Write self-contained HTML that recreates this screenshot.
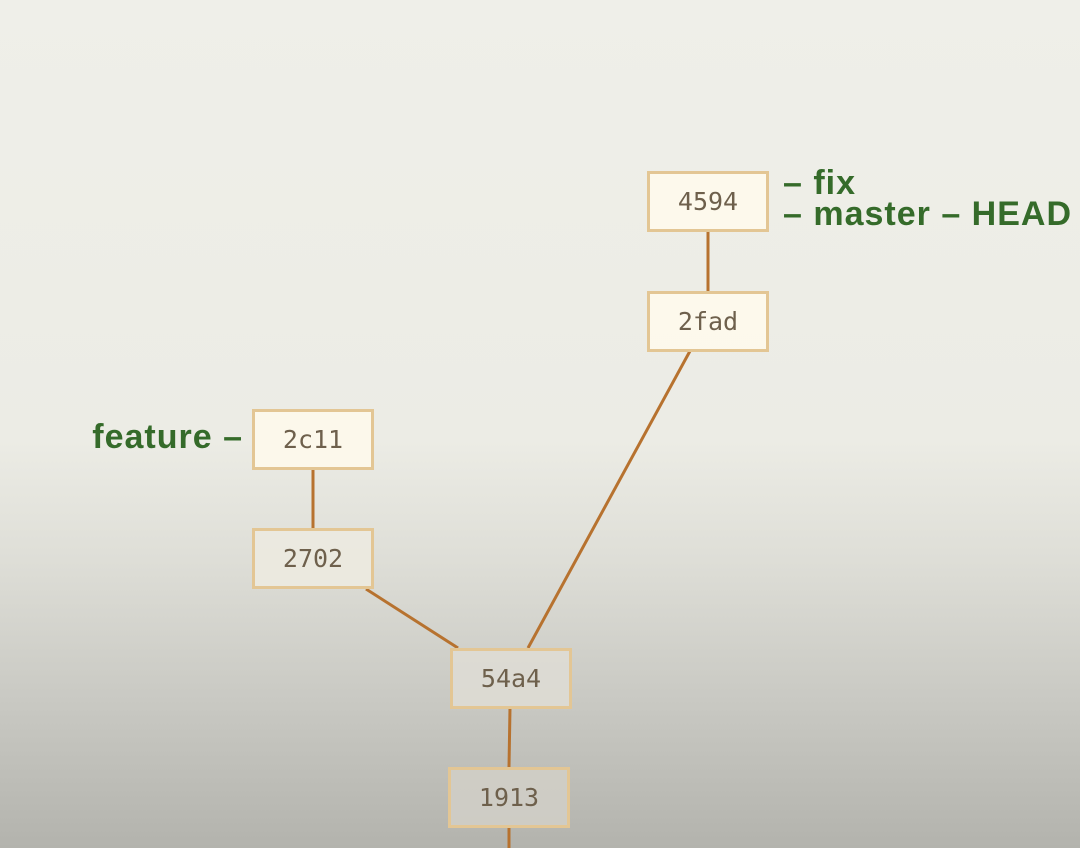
<!DOCTYPE html>
<html><head><style>
html,body{margin:0;padding:0}
body{width:1080px;height:848px;overflow:hidden;position:relative;
background:linear-gradient(to bottom,#efefe9 0px,#ecece5 440px,#dedeD7 560px,#c9c9c3 700px,#b3b3ad 848px);
font-family:"Liberation Sans","DejaVu Sans",sans-serif}
.b{position:absolute;width:116px;height:55px;border:3px solid #e3c694;background:rgba(255,250,236,0.85);
font-family:"DejaVu Sans Mono","Liberation Mono",monospace;font-size:25px;color:#6e604c;text-align:center;line-height:55px}
.g{position:absolute;color:#356b2a;font-size:34px;letter-spacing:1px;font-weight:bold;font-family:"Liberation Sans","DejaVu Sans",sans-serif;white-space:nowrap;line-height:1}
svg{position:absolute;left:0;top:0}
</style></head><body>
<svg width="1080" height="848"><g stroke="#b7722f" stroke-width="3">
<line x1="708" y1="231" x2="708" y2="291"/>
<line x1="690" y1="351" x2="528" y2="648"/>
<line x1="313" y1="469" x2="313" y2="528"/>
<line x1="366" y1="589" x2="458" y2="648"/>
<line x1="510" y1="708" x2="509" y2="767"/>
<line x1="509" y1="827" x2="509" y2="848"/>
</g></svg>
<div class="b" style="left:647px;top:171px">4594</div>
<div class="b" style="left:647px;top:291px">2fad</div>
<div class="b" style="left:252px;top:409px">2c11</div>
<div class="b" style="left:252px;top:528px;background:rgba(236,234,224,0.9)">2702</div>
<div class="b" style="left:450px;top:648px;background:rgba(222,220,212,0.9)">54a4</div>
<div class="b" style="left:448px;top:767px;background:rgba(208,206,198,0.9)">1913</div>
<div class="g" style="left:783px;top:166px">– fix</div>
<div class="g" style="left:783px;top:197px">– master – HEAD</div>
<div class="g" style="right:837px;top:420px">feature –</div>
</body></html>
